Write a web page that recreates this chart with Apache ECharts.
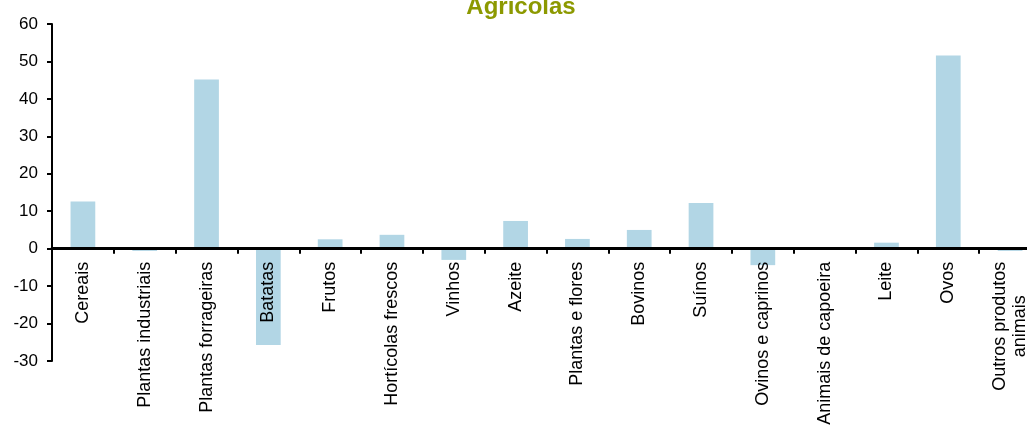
<!DOCTYPE html>
<html>
<head>
<meta charset="utf-8">
<script src="https://cdn.jsdelivr.net/npm/echarts@6/dist/echarts.min.js"></script>
<style>html,body{margin:0;padding:0;background:#fff;}#c{width:1027px;height:425px;}</style>
</head>
<body>
<div id="c"></div>
<script>
var titleText = "Agrícolas";
var categories = ["Cereais","Plantas industriais","Plantas forrageiras","Batatas","Frutos","Hortícolas frescos","Vinhos","Azeite","Plantas e flores","Bovinos","Suínos","Ovinos e caprinos","Animais de capoeira","Leite","Ovos","Outros produtos\nanimais"];
var values = [12.6, -0.6, 45.2, -25.7, 2.5, 3.7, -3.0, 7.4, 2.6, 5.0, 12.2, -4.4, 0, 1.6, 51.6, -0.6];
var yTicks = [-30, -20, -10, 0, 10, 20, 30, 40, 50, 60];

var gridTop = 24, gridBottom = 64, H = 425;
var plotH = H - gridTop - gridBottom;
var yMin = yTicks[0], yMax = yTicks[yTicks.length - 1];
// place the category axis on the zero line
var zeroOffset = -(plotH * (0 - yMin) / (yMax - yMin));

var chart = echarts.init(document.getElementById('c'), null, {renderer: 'canvas'});
chart.setOption({
  animation: false,
  backgroundColor: '#ffffff',
  title: {
    text: titleText,
    left: 516, top: -10,
    textAlign: 'center',
    textStyle: {color: '#8c9900', fontSize: 24, fontWeight: 'bold', fontFamily: 'Liberation Sans, Arial, sans-serif'}
  },
  grid: {left: 52, right: -14, top: gridTop, bottom: gridBottom, containLabel: false, outerBoundsMode: 'none'},
  xAxis: {
    type: 'category',
    data: categories,
    position: 'bottom',
    offset: zeroOffset,
    z: 10,
    axisLine: {onZero: false, lineStyle: {color: '#000', width: 3}},
    axisTick: {show: true, length: 5, lineStyle: {color: '#000', width: 2}},
    axisLabel: {
      rotate: 90, interval: 0, margin: 13,
      color: '#000', fontSize: 18, fontFamily: 'Liberation Sans, Arial, sans-serif',
      formatter: function (v) {
        var lines = v.split('\n');
        if (lines.length > 1) {
          return lines.map(function (l) { return '{c|' + l + '}'; }).join('\n');
        }
        return v;
      },
      rich: {c: {width: 129, align: 'center', fontSize: 18, color: '#000', fontFamily: 'Liberation Sans, Arial, sans-serif', lineHeight: 20}}
    },
    splitLine: {show: false}
  },
  yAxis: {
    type: 'value',
    min: yMin, max: yMax, interval: 10,
    axisLine: {show: true, lineStyle: {color: '#000', width: 2}},
    axisTick: {show: true, length: 5, lineStyle: {color: '#000', width: 2}},
    axisLabel: {color: '#000', fontSize: 17, margin: 14, fontFamily: 'Liberation Sans, Arial, sans-serif'},
    splitLine: {show: false}
  },
  series: [{
    type: 'bar',
    data: values,
    barWidth: '40%',
    z: 2,
    itemStyle: {color: '#b2d6e5'}
  }]
});
</script>
</body>
</html>
